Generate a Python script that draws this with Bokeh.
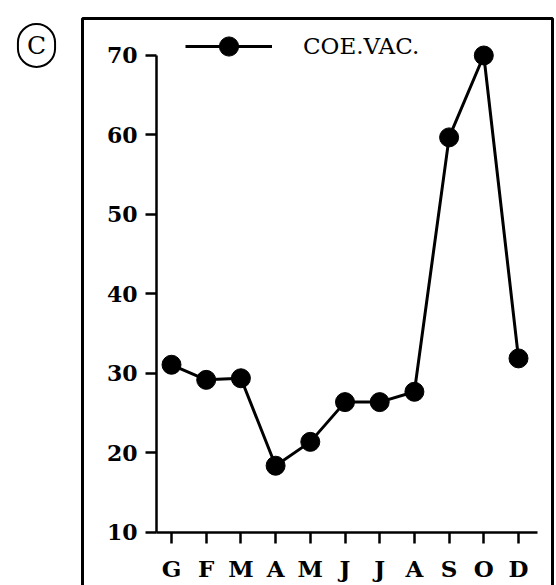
from bokeh.plotting import figure
from bokeh.models import (FixedTicker, Legend, LegendItem, Label, BoxAnnotation, Range1d)
from bokeh.embed import file_html
from bokeh.resources import INLINE

# ---- data ----
months = ["G", "F", "M", "A", "M", "J", "J", "A", "S", "O", "D"]
coe_vac = [31.1, 29.2, 29.4, 18.4, 21.4, 26.4, 26.4, 27.7, 59.7, 70.0, 31.9]
y_ticks = [10, 20, 30, 40, 50, 60, 70]
series_name = "COE.VAC."
panel_tag = "C"

x_pos = list(range(len(months)))

FONT = "DejaVu Serif"

# frame covers the whole canvas; axes are pinned inside with fixed_location
p = figure(width=556, height=585, output_backend="svg", toolbar_location=None,
           x_range=Range1d(-4.928, 11.095), y_range=Range1d(3.333, 76.918),
           min_border=0)
p.background_fill_color = "white"
p.border_fill_color = "white"
p.outline_line_color = None
p.grid.visible = False

# y axis
ya = p.yaxis[0]
ya.fixed_location = -0.432
ya.ticker = FixedTicker(ticks=y_ticks)
ya.bounds = (10, 70)
ya.axis_line_width = 2.5
ya.major_tick_line_width = 2.5
ya.major_tick_out = 11
ya.major_tick_in = 0
ya.minor_tick_line_color = None
ya.major_label_standoff = 8
ya.major_label_text_font = FONT
ya.major_label_text_font_size = "22px"
ya.major_label_text_font_style = "bold"
ya.major_label_text_color = "black"
ya.axis_line_color = "black"
ya.major_tick_line_color = "black"

# x axis
xa = p.xaxis[0]
xa.fixed_location = 10
xa.ticker = FixedTicker(ticks=x_pos)
xa.major_label_overrides = {i: m for i, m in enumerate(months)}
xa.bounds = (-0.432, 10.55)
xa.axis_line_width = 2.5
xa.major_tick_line_width = 2.5
xa.major_tick_out = 11
xa.major_tick_in = 0
xa.minor_tick_line_color = None
xa.major_label_standoff = 12
xa.major_label_text_font = FONT
xa.major_label_text_font_size = "23px"
xa.major_label_text_font_style = "bold"
xa.major_label_text_color = "black"
xa.axis_line_color = "black"
xa.major_tick_line_color = "black"

ln = p.line(x_pos, coe_vac, line_color="black", line_width=3)
sc = p.scatter(x_pos, coe_vac, size=19, marker="circle", fill_color="black",
               line_color="black")

legend = Legend(items=[LegendItem(label=series_name, renderers=[ln, sc])],
                location=(185, 515), orientation="vertical",
                glyph_width=87, glyph_height=48, label_standoff=31,
                padding=0, margin=0, spacing=0,
                border_line_color=None, background_fill_alpha=0,
                label_text_font=FONT, label_text_font_size="23px",
                label_text_color="black")
p.add_layout(legend)

# outer frame of the panel
box = BoxAnnotation(left=82, right=552, top=18, bottom=620,
                    left_units="canvas", right_units="canvas",
                    top_units="canvas", bottom_units="canvas",
                    fill_alpha=0, line_color="black", line_alpha=1.0,
                    line_width=3)
p.add_layout(box)

tag = Label(x=36, y=45, x_units="canvas", y_units="canvas", text=panel_tag,
            text_align="center", text_baseline="middle",
            text_font=FONT, text_font_size="25px", text_color="black",
            border_line_color="black", border_line_width=2,
            border_radius=30, padding=(9, 7))
p.add_layout(tag)

open("out.html", "w").write(file_html(p, INLINE))
